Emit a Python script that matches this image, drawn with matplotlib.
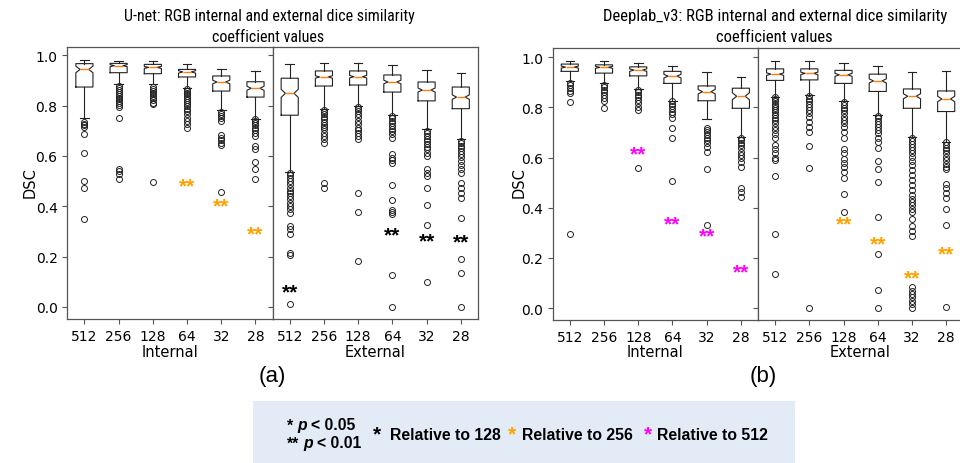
import matplotlib
matplotlib.use("Agg")
import matplotlib.pyplot as plt
from matplotlib.patches import Rectangle
from matplotlib import font_manager

W, H = 960, 464
fig = plt.figure(figsize=(W / 100, H / 100), dpi=100)

def fx(x):
    return x / W

def fy(y):
    return 1 - y / H

# ---------------- data ----------------
sizes = ['512', '256', '128', '64', '32', '28']

# U-net internal
unet_int_whislo = [0.750, 0.885, 0.885, 0.872, 0.781, 0.748]
unet_int_q1 = [0.874, 0.931, 0.927, 0.914, 0.858, 0.834]
unet_int_med = [0.944, 0.959, 0.952, 0.934, 0.894, 0.869]
unet_int_q3 = [0.967, 0.968, 0.964, 0.944, 0.918, 0.895]
unet_int_whishi = [0.980, 0.977, 0.977, 0.964, 0.944, 0.938]
unet_int_notch = [0.013, 0.004, 0.004, 0.005, 0.007, 0.008]
unet_int_fliers = [
    [0.735, 0.728, 0.722, 0.716, 0.687, 0.612, 0.500, 0.472, 0.348],
    [0.878, 0.870, 0.862, 0.855, 0.848, 0.840, 0.832, 0.825, 0.818, 0.810, 0.802, 0.795, 0.750, 0.550, 0.540, 0.527, 0.507],
    [0.876, 0.868, 0.860, 0.852, 0.845, 0.838, 0.830, 0.822, 0.812, 0.805, 0.497],
    [0.866, 0.860, 0.852, 0.845, 0.838, 0.830, 0.822, 0.815, 0.806, 0.798, 0.788, 0.778, 0.765, 0.752, 0.740, 0.728, 0.713],
    [0.775, 0.766, 0.758, 0.750, 0.740, 0.683, 0.672, 0.662, 0.650, 0.642, 0.457],
    [0.745, 0.738, 0.730, 0.722, 0.712, 0.702, 0.690, 0.678, 0.640, 0.626, 0.576, 0.550, 0.507],
]
unet_int_star_y = [None, None, None, 0.491, 0.412, 0.301]
unet_int_star_c = [None, None, None, 'orange', 'orange', 'orange']

# U-net external
unet_ext_whislo = [0.538, 0.785, 0.799, 0.762, 0.706, 0.666]
unet_ext_q1 = [0.762, 0.878, 0.882, 0.854, 0.819, 0.788]
unet_ext_med = [0.849, 0.914, 0.915, 0.894, 0.862, 0.834]
unet_ext_q3 = [0.909, 0.938, 0.938, 0.922, 0.894, 0.874]
unet_ext_whishi = [0.964, 0.968, 0.968, 0.963, 0.942, 0.931]
unet_ext_notch = [0.016, 0.005, 0.005, 0.007, 0.008, 0.009]
unet_ext_fliers = [
    [0.534, 0.523, 0.514, 0.500, 0.487, 0.474, 0.460, 0.451, 0.440, 0.430, 0.414, 0.401, 0.388, 0.375, 0.322, 0.309, 0.291, 0.216, 0.205, 0.013],
    [0.782, 0.774, 0.765, 0.756, 0.745, 0.735, 0.724, 0.717, 0.706, 0.693, 0.679, 0.666, 0.653, 0.492, 0.472],
    [0.795, 0.788, 0.779, 0.766, 0.753, 0.739, 0.726, 0.713, 0.703, 0.693, 0.679, 0.666, 0.454, 0.379, 0.184],
    [0.758, 0.750, 0.739, 0.730, 0.720, 0.709, 0.698, 0.686, 0.673, 0.607, 0.593, 0.584, 0.574, 0.485, 0.425, 0.384, 0.377, 0.371, 0.127, 0.000],
    [0.699, 0.690, 0.679, 0.669, 0.658, 0.648, 0.637, 0.627, 0.613, 0.600, 0.547, 0.534, 0.520, 0.474, 0.405, 0.326, 0.099],
    [0.661, 0.652, 0.641, 0.631, 0.620, 0.608, 0.595, 0.582, 0.564, 0.548, 0.534, 0.494, 0.474, 0.451, 0.434, 0.355, 0.189, 0.136, 0.000],
]
unet_ext_star_y = [0.070, None, None, 0.295, 0.273, 0.269]
unet_ext_star_c = ['black', None, None, 'black', 'black', 'black']

# Deeplab_v3 internal
deep_int_whislo = [0.903, 0.896, 0.872, 0.826, 0.752, 0.682]
deep_int_q1 = [0.943, 0.936, 0.925, 0.895, 0.826, 0.796]
deep_int_med = [0.960, 0.959, 0.948, 0.924, 0.862, 0.844]
deep_int_q3 = [0.972, 0.969, 0.961, 0.943, 0.885, 0.876]
deep_int_whishi = [0.985, 0.983, 0.977, 0.965, 0.940, 0.919]
deep_int_notch = [0.004, 0.004, 0.005, 0.007, 0.009, 0.014]
deep_int_fliers = [
    [0.896, 0.887, 0.876, 0.866, 0.856, 0.820, 0.297],
    [0.889, 0.879, 0.870, 0.859, 0.847, 0.836, 0.823, 0.799],
    [0.870, 0.860, 0.850, 0.839, 0.828, 0.816, 0.803, 0.790, 0.559],
    [0.823, 0.814, 0.804, 0.794, 0.783, 0.772, 0.756, 0.719, 0.679, 0.506],
    [0.719, 0.710, 0.700, 0.690, 0.679, 0.670, 0.656, 0.643, 0.623, 0.553, 0.330],
    [0.679, 0.670, 0.659, 0.650, 0.636, 0.623, 0.610, 0.597, 0.581, 0.563, 0.477, 0.461, 0.443],
]
deep_int_star_y = [None, None, 0.623, 0.344, 0.300, 0.153]
deep_int_star_c = [None, None, 'magenta', 'magenta', 'magenta', 'magenta']

# Deeplab_v3 external
deep_ext_whislo = [0.841, 0.847, 0.823, 0.769, 0.680, 0.663]
deep_ext_q1 = [0.907, 0.909, 0.895, 0.863, 0.796, 0.783]
deep_ext_med = [0.932, 0.935, 0.929, 0.905, 0.844, 0.833]
deep_ext_q3 = [0.953, 0.953, 0.947, 0.932, 0.873, 0.865]
deep_ext_whishi = [0.985, 0.984, 0.977, 0.964, 0.939, 0.944]
deep_ext_notch = [0.005, 0.005, 0.006, 0.008, 0.010, 0.011]
deep_ext_fliers = [
    [0.839, 0.831, 0.823, 0.815, 0.807, 0.799, 0.789, 0.780, 0.769, 0.759, 0.748, 0.736, 0.723, 0.709, 0.692, 0.676, 0.649, 0.632, 0.616, 0.599, 0.589, 0.527, 0.296, 0.135],
    [0.843, 0.833, 0.823, 0.812, 0.801, 0.789, 0.776, 0.763, 0.743, 0.723, 0.703, 0.647, 0.560, 0.000],
    [0.820, 0.809, 0.799, 0.788, 0.776, 0.763, 0.749, 0.736, 0.723, 0.703, 0.679, 0.633, 0.616, 0.596, 0.580, 0.563, 0.543, 0.519, 0.455, 0.385],
    [0.767, 0.756, 0.745, 0.735, 0.723, 0.709, 0.696, 0.679, 0.660, 0.636, 0.585, 0.553, 0.503, 0.363, 0.217, 0.071, 0.000],
    [0.676, 0.665, 0.655, 0.643, 0.629, 0.616, 0.601, 0.585, 0.569, 0.549, 0.529, 0.509, 0.489, 0.469, 0.449, 0.436, 0.423, 0.409, 0.396, 0.383, 0.356, 0.329, 0.309, 0.289, 0.083, 0.069, 0.056, 0.043, 0.029, 0.016, 0.001],
    [0.660, 0.649, 0.639, 0.628, 0.616, 0.603, 0.589, 0.576, 0.563, 0.556, 0.496, 0.479, 0.460, 0.439, 0.393, 0.333, 0.005],
]
deep_ext_star_y = [None, None, 0.345, 0.268, 0.132, 0.225]
deep_ext_star_c = [None, None, 'orange', 'orange', 'orange', 'orange']

titles = ["U-net: RGB internal and external dice similarity", "Deeplab_v3: RGB internal and external dice similarity"]
title_line2 = "coefficient values"
panel_tags = ["(a)", "(b)"]
group_names = ["Internal", "External"]
ylabel = "DSC"

# ---------------- style ----------------
ORANGE = '#ffa200'
MAGENTA = '#ff00ff'
star_colors = {'orange': ORANGE, 'magenta': MAGENTA, 'black': 'black'}
LINE = '#222222'
SPINE = '#555555'

def stats_list(whislo, q1, med, q3, whishi, notch, fliers):
    out = []
    for i in range(len(med)):
        out.append(dict(whislo=whislo[i], q1=q1[i], med=med[i], q3=q3[i], whishi=whishi[i],
                        cilo=med[i] - notch[i], cihi=med[i] + notch[i], fliers=fliers[i], label=sizes[i]))
    return out

def draw(ax, stats, star_y, star_c, show_y):
    ax.bxp(stats, shownotches=True, widths=0.5,
           boxprops=dict(color=LINE, linewidth=0.8),
           whiskerprops=dict(color=LINE, linewidth=0.8),
           capprops=dict(color=LINE, linewidth=0.8),
           medianprops=dict(color='#ff7f0e', linewidth=1.0),
           flierprops=dict(marker='o', markerfacecolor='none', markeredgecolor=LINE,
                           markersize=4.3, markeredgewidth=0.7))
    ax.set_ylim(-0.048, 1.033)
    ax.set_xlim(0.5, 6.5)
    ax.set_yticks([0.0, 0.2, 0.4, 0.6, 0.8, 1.0])
    ax.set_xticks(range(1, 7))
    ax.set_xticklabels(sizes)
    ax.tick_params(labelsize=10, length=3.5, width=0.8, color=SPINE)
    if not show_y:
        ax.tick_params(labelleft=False)
    for s in ax.spines.values():
        s.set_color(SPINE)
        s.set_linewidth(0.9)
    for i, (y, c) in enumerate(zip(star_y, star_c)):
        if y is None:
            continue
        ax.annotate("**", xy=(i + 1, y), xytext=(0, -5.8), textcoords='offset points',
                    ha='center', va='baseline', fontsize=15, fontweight='bold',
                    family='Liberation Sans', color=star_colors[c])

ax_h = 0.5862
ax_b = 0.3103
aw = 205.3 / W
ax1 = fig.add_axes([fx(67.3), ax_b, aw, ax_h])
ax2 = fig.add_axes([fx(272.6), ax_b, aw, ax_h])
ax3 = fig.add_axes([fx(552.7), fy(321), aw, ax_h])
ax4 = fig.add_axes([fx(758.0), fy(321), aw, ax_h])

draw(ax1, stats_list(unet_int_whislo, unet_int_q1, unet_int_med, unet_int_q3, unet_int_whishi, unet_int_notch, unet_int_fliers), unet_int_star_y, unet_int_star_c, True)
draw(ax2, stats_list(unet_ext_whislo, unet_ext_q1, unet_ext_med, unet_ext_q3, unet_ext_whishi, unet_ext_notch, unet_ext_fliers), unet_ext_star_y, unet_ext_star_c, False)
draw(ax3, stats_list(deep_int_whislo, deep_int_q1, deep_int_med, deep_int_q3, deep_int_whishi, deep_int_notch, deep_int_fliers), deep_int_star_y, deep_int_star_c, True)
draw(ax4, stats_list(deep_ext_whislo, deep_ext_q1, deep_ext_med, deep_ext_q3, deep_ext_whishi, deep_ext_notch, deep_ext_fliers), deep_ext_star_y, deep_ext_star_c, False)
ax3.set_ylim(-0.047, 1.036)
ax4.set_ylim(-0.047, 1.036)

# ---------------- titles (condensed font if available, fitted to width) ----------------
cond = None
names = {f.name for f in font_manager.fontManager.ttflist}
for cand in ['Liberation Sans Narrow', 'Roboto Condensed', 'Open Sans Condensed', 'Noto Sans Condensed',
             'DejaVu Sans Condensed', 'Liberation Sans']:
    if cand in names:
        cond = cand
        break
title_font = [cond or 'DejaVu Sans', 'DejaVu Sans']
title_specs = [(269, titles[0], 291), (775, titles[1], 345)]
fig.canvas.draw()
renderer = fig.canvas.get_renderer()
for cx, t, target_w in title_specs:
    t1 = fig.text(fx(cx), fy(17), t, ha='center', va='center', fontsize=11.5, family=title_font)
    bw = t1.get_window_extent(renderer).width
    fs = 11.5 * target_w / bw
    t1.set_fontsize(fs)
    fig.text(fx(cx - 1), fy(37), title_line2, ha='center', va='center', fontsize=fs, family=title_font)

for x in [30, 519]:
    fig.text(fx(x), fy(183), ylabel, rotation=90, ha='center', va='center', fontsize=10.5)
for x, t in [(170, group_names[0]), (375, group_names[1]), (655, group_names[0]), (860, group_names[1])]:
    fig.text(fx(x), fy(353), t, ha='center', va='center', fontsize=10.5)
for x, t in [(272, panel_tags[0]), (763, panel_tags[1])]:
    fig.text(fx(x), fy(377), t, ha='center', va='center', fontsize=16, family='Liberation Sans')

# ---------------- legend box ----------------
fig.patches.append(Rectangle((fx(253), 0), fx(795) - fx(253), fy(402),
                             transform=fig.transFigure, facecolor='#e3ecf6', edgecolor='none', zorder=0))
lf = dict(family='Liberation Sans', fontweight='bold', fontsize=11.3, va='baseline', ha='left')
fig.text(fx(287), fy(430.5), "*", **lf)
fig.text(fx(297.0), fy(430.5), "p", style='italic', **lf)
fig.text(fx(311.0), fy(430.5), "< 0.05", **lf)
fig.text(fx(287), fy(448.5), "**", **lf)
fig.text(fx(303.5), fy(448.5), "p", style='italic', **lf)
fig.text(fx(317.0), fy(448.5), "< 0.01", **lf)

legend_labels = ["Relative to 128", "Relative to 256", "Relative to 512"]
legend_star_x = [372.5, 507.5, 643.5]
legend_text_x = [389.6, 521.9, 656.8]
legend_cols = ['black', ORANGE, MAGENTA]
for sx, tx, lab, c in zip(legend_star_x, legend_text_x, legend_labels, legend_cols):
    fig.text(fx(sx), fy(440), "*", color=c, family='Liberation Sans', fontweight='bold', fontsize=15, va='baseline', ha='left')
    fig.text(fx(tx), fy(440), lab, **lf)

fig.savefig("out.png", dpi=100)
